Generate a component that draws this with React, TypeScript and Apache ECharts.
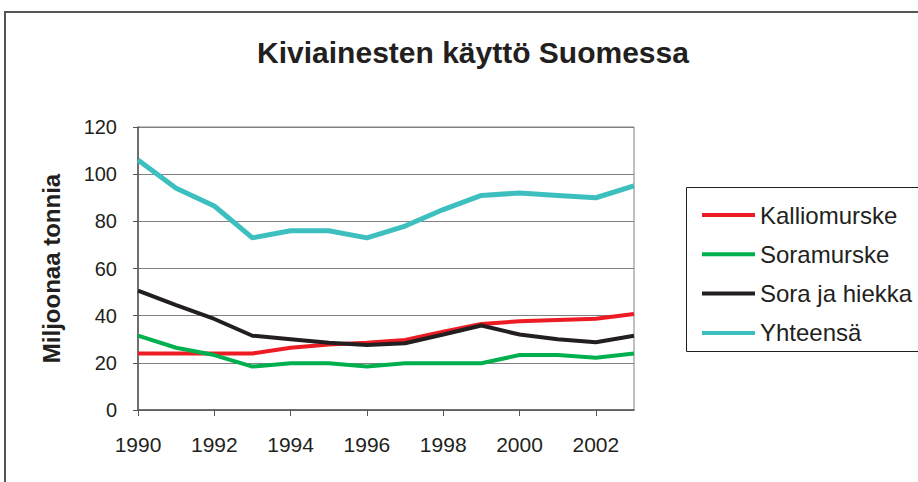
import React, { useEffect, useRef } from "react";
import * as echarts from "echarts";

const years = [1990, 1991, 1992, 1993, 1994, 1995, 1996, 1997, 1998, 1999, 2000, 2001, 2002, 2003];
const kalliomurske = [24, 24, 24, 24, 26.4, 27.8, 28.5, 29.7, 33.2, 36.5, 37.6, 38.2, 38.7, 40.7];
const soramurske = [31.5, 26.4, 23.3, 18.4, 19.8, 19.8, 18.4, 19.8, 19.8, 19.8, 23.3, 23.3, 22.2, 24];
const soraJaHiekka = [50.6, 44.5, 38.6, 31.5, 30, 28.5, 27.6, 28.3, 32, 35.8, 32, 30, 28.7, 31.5];
const yhteensa = [106, 94, 86.5, 73, 76, 76, 73, 78, 85, 91, 92, 91, 90, 95];

const seriesNames = ["Kalliomurske", "Soramurske", "Sora ja hiekka", "Yhteensä"];
const seriesColors = ["#ED1C24", "#00B04F", "#231F20", "#3CBFBE"];
const seriesData = [kalliomurske, soramurske, soraJaHiekka, yhteensa];

const FONT = "Liberation Sans, Arial, sans-serif";

export default function App() {
  const ref = useRef<HTMLDivElement>(null);
  useEffect(() => {
    document.body.style.margin = "0";
    const chart = echarts.init(ref.current!, null, { renderer: "svg" });
    chart.setOption({
      animation: false,
      backgroundColor: "#ffffff",
      title: {
        text: "Kiviainesten käyttö Suomessa",
        left: 468,
        textAlign: "center",
        top: 32,
        textStyle: { fontFamily: FONT, fontSize: 30, fontWeight: "bold", color: "#231F20" },
      },
      graphic: [
        {
          type: "rect",
          shape: { x: 5, y: 12, width: 1000, height: 1000 },
          style: { fill: "none", stroke: "#555555", lineWidth: 2 },
          silent: true,
        },
        {
          type: "rect",
          shape: { x: 686.5, y: 187.5, width: 300, height: 164 },
          style: { fill: "none", stroke: "#231F20", lineWidth: 1 },
          silent: true,
        },
      ],
      legend: {
        orient: "vertical",
        left: 697,
        top: 198,
        itemWidth: 53,
        itemHeight: 4,
        itemGap: 15.3,
        icon: "rect",
        data: seriesNames.map((n, i) => ({
          name: n,
          itemStyle: { color: seriesColors[i] },
        })),
        textStyle: { fontFamily: FONT, fontSize: 24, color: "#231F20", lineHeight: 24 },
      },
      grid: {
        left: 138,
        right: 284,
        top: 127,
        bottom: 72,
        show: true,
        borderColor: "#808080",
        borderWidth: 1,
      },
      xAxis: {
        type: "value",
        min: 1990,
        max: 2003,
        interval: 2,
        axisLine: { show: true, lineStyle: { color: "#555555", width: 1.5 } },
        axisTick: { show: true, length: 6, lineStyle: { color: "#555555" } },
        splitLine: { show: false },
        axisLabel: {
          fontFamily: FONT,
          fontSize: 21,
          color: "#231F20",
          margin: 24,
          showMaxLabel: false,
          formatter: (v: number) => String(v),
        },
      },
      yAxis: {
        type: "value",
        min: 0,
        max: 120,
        interval: 20,
        name: "Miljoonaa tonnia",
        nameLocation: "middle",
        nameRotate: 90,
        nameGap: 75,
        nameTextStyle: { fontFamily: FONT, fontSize: 24, fontWeight: "bold", color: "#231F20" },
        axisLine: { show: true, lineStyle: { color: "#555555", width: 1.5 } },
        axisTick: { show: true, length: 5, lineStyle: { color: "#555555" } },
        splitLine: { show: true, lineStyle: { color: "#808080", width: 1 } },
        axisLabel: { fontFamily: FONT, fontSize: 20, color: "#231F20", margin: 21 },
      },
      series: seriesNames.map((n, i) => ({
        name: n,
        type: "line",
        symbol: "none",
        data: years.map((y, j) => [y, seriesData[i][j]]),
        lineStyle: { color: seriesColors[i], width: i === 3 ? 5 : 4 },
        itemStyle: { color: seriesColors[i] },
      })),
    });
    return () => chart.dispose();
  }, []);
  return <div ref={ref} style={{ position: "fixed", left: 0, top: 0, width: 918, height: 482 }} />;
}
